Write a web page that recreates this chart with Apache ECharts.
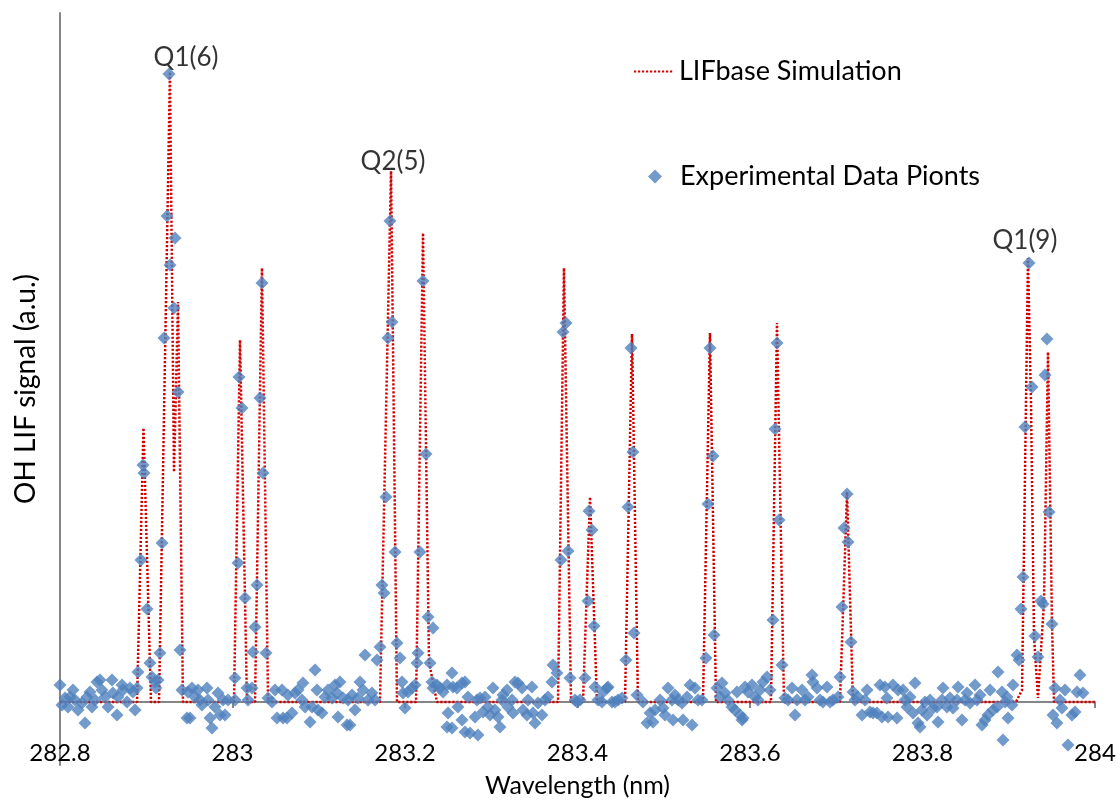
<!DOCTYPE html>
<html>
<head>
<meta charset="utf-8">
<title>OH LIF spectrum</title>
<script src="https://cdn.jsdelivr.net/npm/echarts@6/dist/echarts.min.js"></script>
<style>
  html, body { margin: 0; padding: 0; background: #ffffff; }
  #chart { width: 1120px; height: 800px; }
</style>
</head>
<body>
<div id="chart"></div>
<script>
// Wavelength axis ticks (nm)
const xTicks = [282.8, 283.0, 283.2, 283.4, 283.6, 283.8, 284.0];

// LIFbase simulated spectrum: [wavelength nm, signal a.u.]
const simulation = [
  [282.8000, 0], [282.8893, 0], [282.8968, 274], [282.9055, 0],
  [282.9148, 0], [282.9275, 630], [282.9322, 230], [282.9368, 400], [282.9426, 0],
  [283.0017, 0], [283.0087, 362], [283.0168, 0],
  [283.0261, 0], [283.0342, 434], [283.0412, 0],
  [283.1710, 0], [283.1838, 531], [283.1907, 0],
  [283.2128, 0], [283.2209, 469], [283.2278, 40], [283.2371, 0],
  [283.3774, 0], [283.3843, 434], [283.3925, 0],
  [283.4064, 0], [283.4145, 205], [283.4226, 0],
  [283.4551, 0], [283.4632, 368], [283.4701, 0],
  [283.5455, 0], [283.5536, 369], [283.5606, 0],
  [283.6243, 0], [283.6313, 379], [283.6394, 0],
  [283.7043, 0], [283.7125, 210], [283.7194, 0],
  [283.9084, 0], [283.9154, 12], [283.9223, 444], [283.9258, 300], [283.9293, 65],
  [283.9339, 4], [283.9409, 100], [283.9455, 350], [283.9501, 80], [283.9525, 0],
  [284.0000, 0]
];

// Measured LIF points: [wavelength nm, signal a.u.]
const experimentA = [
  [282.8000, 17], [282.8023, -3], [282.8058, 4], [282.8093, -5], [282.8116, 5],
  [282.8151, 12], [282.8174, 2], [282.8209, -8], [282.8255, -1], [282.8290, -21],
  [282.8313, 5], [282.8348, 10], [282.8371, -5], [282.8406, 2], [282.8429, 20],
  [282.8464, 22], [282.8487, 12], [282.8522, 5], [282.8557, -5], [282.8603, 22],
  [282.8614, 9], [282.8661, -13], [282.8672, 5], [282.8719, 17], [282.8730, 12],
  [282.8777, 0], [282.8812, 14], [282.8846, 10], [282.8870, -8], [282.8893, 14],
  [282.8904, 30], [282.8939, 142], [282.8962, 237], [282.8974, 229], [282.9009, 93],
  [282.9043, 39], [282.9067, 25], [282.9101, 20], [282.9113, 14], [282.9136, 22],
  [282.9159, 49], [282.9183, 159], [282.9206, 364], [282.9241, 486], [282.9264, 628],
  [282.9275, 437], [282.9322, 394], [282.9333, 464], [282.9368, 310], [282.9391, 52],
  [282.9414, 12], [282.9472, -16], [282.9484, 10], [282.9507, -16], [282.9530, 14],
  [282.9565, 5], [282.9600, 12], [282.9623, 2], [282.9646, -3], [282.9704, 14],
  [282.9716, 2], [282.9739, -16], [282.9762, -26], [282.9797, -5], [282.9832, 9],
  [282.9855, -13], [282.9890, 2], [282.9913, -13], [282.9948, 2], [283.0029, 24],
  [283.0029, 2], [283.0064, 139], [283.0075, 325], [283.0110, 294], [283.0145, 104],
  [283.0168, 14], [283.0180, 2], [283.0226, 14], [283.0238, 50], [283.0261, 75],
  [283.0284, 117], [283.0319, 304], [283.0342, 419], [283.0354, 229], [283.0388, 49],
  [283.0412, 4], [283.0458, 0], [283.0493, 12], [283.0516, -16], [283.0574, 12],
  [283.0586, -16], [283.0632, -16], [283.0643, 7], [283.0690, -11], [283.0725, 9],
  [283.0759, 12], [283.0806, 2], [283.0817, 19], [283.0841, -5], [283.0899, -20],
  [283.0922, -5], [283.0957, 32], [283.0980, 12], [283.0991, -8]
];

const experimentB = [
  [283.1038, -11], [283.1072, 5], [283.1107, 12], [283.1154, 4], [283.1188, 17],
  [283.1212, 9], [283.1223, -15], [283.1246, 20], [283.1281, 4], [283.1328, -23],
  [283.1339, 2], [283.1362, -23], [283.1386, 7], [283.1420, -8], [283.1455, 4],
  [283.1478, 20], [283.1513, 12], [283.1536, 47], [283.1571, 2], [283.1617, 9],
  [283.1652, 2], [283.1675, 42], [283.1710, 55], [283.1733, 117], [283.1757, 109],
  [283.1780, 205], [283.1803, 364], [283.1826, 481], [283.1849, 380], [283.1884, 150],
  [283.1907, 59], [283.1942, 44], [283.1965, 20], [283.1977, 9], [283.2000, -6],
  [283.2035, 10], [283.2081, 14], [283.2116, 17], [283.2139, 39], [283.2151, 49],
  [283.2174, 150], [283.2209, 421], [283.2243, 248], [283.2267, 85], [283.2290, 39],
  [283.2313, 20], [283.2325, 74], [283.2325, 14], [283.2371, 17], [283.2406, 14],
  [283.2441, 10], [283.2487, 17], [283.2487, -25], [283.2499, -11], [283.2545, 29],
  [283.2545, -26], [283.2557, 15], [283.2603, 14], [283.2614, -5], [283.2661, 19],
  [283.2661, -18], [283.2696, 20], [283.2696, -30], [283.2730, 5], [283.2754, -31],
  [283.2812, -15], [283.2835, 2], [283.2846, -33], [283.2870, 4], [283.2904, -10],
  [283.2928, 5], [283.2962, -5], [283.2986, -13], [283.3020, 14], [283.3043, -8],
  [283.3078, -15], [283.3101, -25], [283.3125, 2], [283.3136, 7], [283.3183, 12],
  [283.3194, -5], [283.3241, 2], [283.3252, -11], [283.3275, 20], [283.3310, 19],
  [283.3357, 14], [283.3368, -8], [283.3414, -13], [283.3426, 2], [283.3472, 15],
  [283.3484, -11], [283.3507, -21], [283.3542, -1], [283.3588, -13], [283.3623, 2],
  [283.3658, 5], [283.3704, 20], [283.3716, 37], [283.3762, 29], [283.3809, 142],
  [283.3832, 370], [283.3867, 379], [283.3890, 151], [283.3913, 24], [283.3971, 2]
];

const experimentC = [
  [283.3994, 0], [283.4029, 2], [283.4087, 24], [283.4122, 101], [283.4133, 191],
  [283.4168, 172], [283.4191, 76], [283.4203, 15], [283.4238, 2], [283.4284, 0],
  [283.4296, 10], [283.4342, 14], [283.4354, 15], [283.4400, 0], [283.4435, 0],
  [283.4470, 2], [283.4516, 4], [283.4562, 42], [283.4586, 195], [283.4620, 354],
  [283.4643, 250], [283.4655, 69], [283.4690, 7], [283.4759, 0], [283.4806, -21],
  [283.4841, -11], [283.4875, -20], [283.4899, -8], [283.4957, 2], [283.4991, -6],
  [283.5014, -13], [283.5049, 14], [283.5096, 2], [283.5107, -18], [283.5130, 7],
  [283.5165, 2], [283.5212, -1], [283.5223, -18], [283.5270, 5], [283.5304, 17],
  [283.5328, -23], [283.5362, 14], [283.5397, 2], [283.5443, 2], [283.5490, 44],
  [283.5513, 198], [283.5536, 354], [283.5571, 246], [283.5583, 67], [283.5617, 14],
  [283.5652, 5], [283.5675, 19], [283.5710, 9], [283.5745, 2], [283.5791, -5],
  [283.5826, -8], [283.5849, 10], [283.5884, -13], [283.5907, -18], [283.5919, -16],
  [283.5942, 15], [283.5977, 10], [283.6023, 17], [283.6058, 5], [283.6093, 2],
  [283.6116, 12], [283.6151, 20], [283.6197, 25], [283.6232, 12], [283.6267, 82],
  [283.6290, 273], [283.6313, 359], [283.6336, 182], [283.6371, 37], [283.6406, 4],
  [283.6441, 2], [283.6487, 14], [283.6522, -13], [283.6545, 2], [283.6603, 12],
  [283.6638, 2], [283.6672, 5], [283.6719, 27], [283.6730, 20], [283.6777, 14],
  [283.6812, 2], [283.6846, 0], [283.6893, 15], [283.6928, 0], [283.6962, 2],
  [283.7020, 5], [283.7043, 25], [283.7067, 95], [283.7090, 174], [283.7125, 208],
  [283.7136, 160], [283.7171, 60]
];

const experimentD = [
  [283.7194, 10], [283.7217, 2], [283.7252, 5], [283.7299, -13], [283.7333, 2],
  [283.7357, 12], [283.7391, -10], [283.7426, -11], [283.7472, -11], [283.7507, 17],
  [283.7530, -15], [283.7565, 15], [283.7588, 4], [283.7600, -15], [283.7658, 17],
  [283.7704, -16], [283.7716, 12], [283.7774, 12], [283.7797, 2], [283.7820, -5],
  [283.7855, 5], [283.7890, -11], [283.7913, 19], [283.7948, -21], [283.7971, -25],
  [283.7994, -8], [283.8029, 0], [283.8052, -13], [283.8087, 2], [283.8122, -6],
  [283.8168, -5], [283.8180, -20], [283.8226, 2], [283.8238, 14], [283.8284, -5],
  [283.8319, 4], [283.8354, -6], [283.8400, 2], [283.8412, 15], [283.8458, -18],
  [283.8493, 2], [283.8516, 9], [283.8551, -1], [283.8609, 17], [283.8632, 2],
  [283.8667, 7], [283.8690, -23], [283.8725, -18], [283.8759, -13], [283.8783, 12],
  [283.8817, -8], [283.8864, -5], [283.8875, 30], [283.8922, 10], [283.8933, -38],
  [283.8957, 0], [283.8980, 5], [283.8991, -16], [283.9038, -3], [283.9049, 17],
  [283.9096, 47], [283.9119, 42], [283.9142, 93], [283.9165, 125], [283.9188, 275],
  [283.9235, 439], [283.9270, 315], [283.9304, 66], [283.9339, 45], [283.9374, 101],
  [283.9397, 98], [283.9420, 327], [283.9443, 363], [283.9467, 190], [283.9501, 78],
  [283.9513, -13], [283.9536, 14], [283.9559, -21], [283.9594, 2], [283.9617, -6],
  [283.9652, 12], [283.9687, -43], [283.9733, -13], [283.9768, -10], [283.9791, 10],
  [283.9826, 27], [283.9861, 9]
];

// Rotational line assignments placed above their peaks: [wavelength nm, signal a.u., label]
const lineLabels = [
  [282.9461, 644, 'Q1(6)'],
  [283.1861, 540, 'Q2(5)'],
  [283.9188, 461, 'Q1(9)']
];

const FONT = 'Lato, "Open Sans", sans-serif';
const AXIS_GRAY = '#868686';
const SIM_RED = '#d40000';
const EXP_BLUE = '#4f81bd';

const experiment = experimentA.concat(experimentB, experimentC, experimentD);

const legendText = { fontFamily: FONT, fontSize: 27, color: '#000' };

const xRange = {
  type: 'value',
  min: xTicks[0],
  max: xTicks[xTicks.length - 1],
  interval: 0.2,
  splitLine: { show: false }
};

const chart = echarts.init(document.getElementById('chart'), null, { renderer: 'canvas' });

chart.setOption({
  animation: false,
  backgroundColor: '#ffffff',
  textStyle: { fontFamily: FONT, color: '#000' },
  grid: {
    left: 60, right: 25, top: 13, bottom: 35,
    containLabel: false,
    outerBoundsMode: 'none'
  },
  legend: [
    {
      left: 633,
      top: 58,
      padding: 0,
      itemWidth: 40,
      itemHeight: 14,
      selectedMode: false,
      textStyle: legendText,
      data: [{ name: 'LIFbase Simulation', itemStyle: { color: 'rgba(0,0,0,0)', borderWidth: 0 } }]
    },
    {
      left: 648,
      top: 163,
      padding: 0,
      itemWidth: 14,
      itemHeight: 14,
      selectedMode: false,
      textStyle: Object.assign({ padding: [0, 0, 0, 13] }, legendText),
      data: [{ name: 'Experimental Data Pionts', icon: 'diamond' }]
    }
  ],
  xAxis: [
    // zero line with its ticks
    Object.assign({}, xRange, {
      axisLine: { onZero: true, lineStyle: { color: AXIS_GRAY, width: 2 } },
      axisTick: { show: true, length: 6, lineStyle: { color: AXIS_GRAY, width: 2 } },
      axisLabel: { show: false }
    }),
    // tick labels and axis title along the lower edge
    Object.assign({}, xRange, {
      position: 'bottom',
      offset: -24,
      name: 'Wavelength (nm)',
      nameLocation: 'middle',
      nameGap: 32,
      nameMoveOverlap: false,
      nameTextStyle: { fontFamily: FONT, fontSize: 25, color: '#000' },
      axisLine: { show: false, onZero: false },
      axisTick: { show: false },
      axisLabel: {
        margin: 0,
        fontFamily: FONT,
        fontSize: 24,
        color: '#000',
        formatter: v => String(parseFloat(v.toFixed(1)))
      }
    })
  ],
  yAxis: {
    type: 'value',
    min: -63,
    max: 689,
    name: 'OH LIF signal (a.u.)',
    nameLocation: 'middle',
    nameGap: 20,
    nameTextStyle: { fontFamily: FONT, fontSize: 28, color: '#000' },
    axisLine: { show: true, onZero: false, lineStyle: { color: AXIS_GRAY, width: 2 } },
    axisTick: { show: false },
    axisLabel: { show: false },
    splitLine: { show: false }
  },
  series: [
    {
      name: 'LIFbase Simulation',
      type: 'line',
      xAxisIndex: 0,
      data: simulation,
      symbol: 'none',
      z: 2,
      lineStyle: { color: SIM_RED, width: 2.5, type: [2.2, 1.8] },
      itemStyle: { color: SIM_RED }
    },
    {
      name: 'Experimental Data Pionts',
      type: 'scatter',
      xAxisIndex: 0,
      data: experiment,
      symbol: 'diamond',
      symbolSize: 13,
      z: 3,
      itemStyle: { color: EXP_BLUE }
    },
    {
      name: 'line assignments',
      type: 'scatter',
      xAxisIndex: 0,
      silent: true,
      data: lineLabels.map(d => ({ value: [d[0], d[1]], name: d[2] })),
      symbolSize: 1,
      itemStyle: { color: 'rgba(0,0,0,0)' },
      z: 4,
      label: {
        show: true,
        position: 'inside',
        formatter: '{b}',
        fontFamily: FONT,
        fontSize: 26,
        color: '#000'
      }
    }
  ]
});
</script>
</body>
</html>
